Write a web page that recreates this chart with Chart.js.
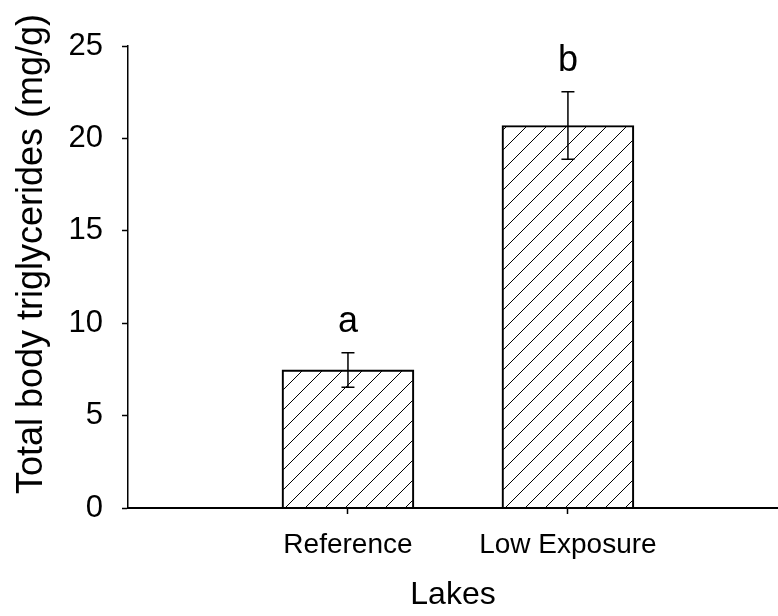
<!DOCTYPE html>
<html>
<head>
<meta charset="utf-8">
<script src="https://cdn.jsdelivr.net/npm/chart.js@4/dist/chart.umd.min.js"></script>
<style>
  html, body { margin: 0; padding: 0; background: #fff; }
  #wrap { width: 778px; height: 616px; }
</style>
</head>
<body>
<div id="wrap"><canvas id="myChart" width="778" height="616"></canvas></div>
<script>
const lakes = ['Reference', 'Low Exposure']
const triglycerides = [7.47, 20.7]
const stdErr = [0.93, 1.83]
const groupLetters = ['a', 'b']
const yTicks = [0, 5, 10, 15, 20, 25]

const FONT = "'Liberation Sans', Arial, sans-serif"

// diagonal hatch like the original figure
const makeHatch = () => {
  const tile = document.createElement('canvas')
  tile.width = 20
  tile.height = 20
  const c = tile.getContext('2d')
  c.strokeStyle = '#000'
  c.lineWidth = 1
  c.beginPath()
  c.moveTo(-10, 10); c.lineTo(10, -10)
  c.moveTo(0, 20); c.lineTo(20, 0)
  c.moveTo(10, 30); c.lineTo(30, 10)
  c.stroke()
  const pat = document.getElementById('myChart').getContext('2d').createPattern(tile, 'repeat')
  pat.setTransform(new DOMMatrix().translate(13, 0))
  return pat
}

// error bars + significance letters
const errorBars = {
  id: 'errorBars',
  afterDatasetsDraw(chart) {
    const ctx = chart.ctx
    const y = chart.scales.y
    const meta = chart.getDatasetMeta(0)
    ctx.save()
    ctx.strokeStyle = '#000'
    ctx.lineWidth = 1.5
    meta.data.forEach((bar, i) => {
      const top = y.getPixelForValue(triglycerides[i] + stdErr[i])
      const bot = y.getPixelForValue(triglycerides[i] - stdErr[i])
      ctx.beginPath()
      ctx.moveTo(bar.x, top); ctx.lineTo(bar.x, bot)
      ctx.moveTo(bar.x - 6.5, top); ctx.lineTo(bar.x + 6.5, top)
      ctx.moveTo(bar.x - 6.5, bot); ctx.lineTo(bar.x + 6.5, bot)
      ctx.stroke()
      ctx.fillStyle = '#000'
      ctx.font = '36px ' + FONT
      ctx.textAlign = 'center'
      ctx.textBaseline = 'alphabetic'
      ctx.fillText(groupLetters[i], bar.x, top - 21)
    })
    ctx.restore()
  }
}

// y title sits a bit above the axis middle in the original
const yTitle = {
  id: 'yTitle',
  afterDraw(chart) {
    const ctx = chart.ctx
    ctx.save()
    ctx.translate(32, 254)
    ctx.rotate(-Math.PI / 2)
    ctx.fillStyle = '#000'
    ctx.font = '36px ' + FONT
    ctx.textAlign = 'center'
    ctx.textBaseline = 'middle'
    ctx.fillText('Total body triglycerides (mg/g)', 0, 0)
    ctx.restore()
  }
}

const ctx = document.getElementById('myChart')
const myChart = new Chart(ctx, {
  type: 'bar',
  data: {
    datasets: [{
      data: lakes.map((l, i) => ({ x: i + 1, y: triglycerides[i] })),
      backgroundColor: makeHatch(),
      borderColor: '#000',
      borderWidth: 1.5,
      barThickness: 132,
    }]
  },
  plugins: [errorBars, yTitle],
  options: {
    responsive: false,
    animation: false,
    layout: { padding: { top: 46, right: 0, left: 0, bottom: 0 } },
    plugins: {
      legend: { display: false },
      tooltip: { enabled: false },
    },
    scales: {
      x: {
        type: 'linear',
        min: 0,
        max: 2.955,
        bounds: 'data',
        offset: false,
        afterBuildTicks: (scale) => { scale.ticks = lakes.map((l, i) => ({ value: i + 1 })) },
        afterFit: (scale) => { scale.height = 108 },
        grid: { display: true, offset: false, drawOnChartArea: false, drawTicks: true, tickLength: 6, tickColor: '#000', tickWidth: 1.5 },
        border: { color: '#000', width: 2 },
        ticks: {
          color: '#000',
          font: { family: FONT, size: 28 },
          padding: 14,
          maxRotation: 0,
          callback: (v) => lakes[v - 1],
        },
        title: {
          display: true,
          text: 'Lakes',
          color: '#000',
          font: { family: FONT, size: 32 },
          padding: { top: 0, bottom: 2 },
        },
      },
      y: {
        min: 0,
        max: 25,
        afterBuildTicks: (scale) => { scale.ticks = yTicks.map(v => ({ value: v })) },
        afterFit: (scale) => { scale.width = 128 },
        grid: { display: true, drawOnChartArea: false, drawTicks: true, tickLength: 6, tickColor: '#000', tickWidth: 1.5 },
        border: { color: '#000', width: 1.5 },
        ticks: {
          color: '#000',
          font: { family: FONT, size: 31 },
          padding: 19,
        },
      },
    },
  },
})
</script>
</body>
</html>
